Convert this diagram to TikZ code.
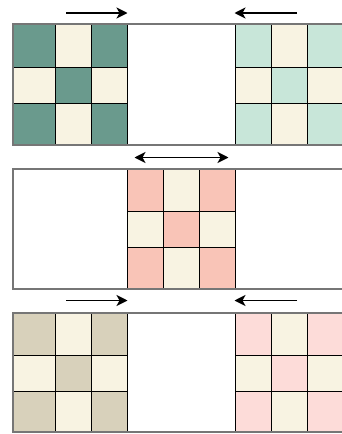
\documentclass[tikz,border=0pt]{standalone}
\usetikzlibrary{arrows.meta}
\definecolor{teal}{HTML}{6A9A8D}
\definecolor{mint}{HTML}{C8E6D9}
\definecolor{cream}{HTML}{F8F3E2}
\definecolor{salmon}{HTML}{F9C4B7}
\definecolor{beige}{HTML}{D8D1BB}
\definecolor{pinkl}{HTML}{FDDCD9}
\definecolor{bordergray}{HTML}{767676}
\tikzset{
  gridline/.style={black, line width=0.9pt},
  panelline/.style={bordergray, line width=1.3pt},
  arr/.style={black, line width=1.5pt, -{Stealth[length=11pt,width=11pt,inset=3pt]}},
  darr/.style={black, line width=1.5pt, {Stealth[length=11pt,width=11pt,inset=3pt]}-{Stealth[length=11pt,width=11pt,inset=3pt]}}
}
% #1..#4 column edges, #5..#8 row edges, #9 colour
\newcommand\mygrid[9]{%
  \fill[cream] (#1,#5) rectangle (#4,#8);
  \fill[#9] (#1,#5) rectangle (#2,#6);
  \fill[#9] (#3,#5) rectangle (#4,#6);
  \fill[#9] (#2,#6) rectangle (#3,#7);
  \fill[#9] (#1,#7) rectangle (#2,#8);
  \fill[#9] (#3,#7) rectangle (#4,#8);
  \foreach \xx in {#1,#2,#3,#4} {\draw[gridline] (\xx,#5) -- (\xx,#8);}
  \foreach \yy in {#5,#6,#7,#8} {\draw[gridline] (#1,\yy) -- (#4,\yy);}
}
\newcommand\mypanel[2]{%
  \draw[panelline] (360,#1) -- (13,#1) -- (13,#2) -- (360,#2);
}
\begin{document}
\begin{tikzpicture}[x=1pt,y=-1pt]
\useasboundingbox (0,0) rectangle (342,434);
\clip (0,0) rectangle (342,434);
% panel 1
\mygrid{13}{55}{91}{127}{24}{67}{103}{145}{teal}
\mygrid{235}{271}{307}{343}{24}{67}{103}{145}{mint}
\mypanel{24}{145}
% panel 2
\mygrid{127}{163}{199}{235}{169}{211}{247}{289}{salmon}
\mypanel{169}{289}
% panel 3
\mygrid{13}{55}{91}{127}{313}{355}{391}{432}{beige}
\mygrid{235}{271}{307}{343}{313}{355}{391}{432}{pinkl}
\mypanel{313}{432}
% arrows
\coordinate (a1s) at (66,13);
\coordinate (a1e) at (127.5,13);
\coordinate (a2s) at (297,13);
\coordinate (a2e) at (234.5,13);
\coordinate (b1s) at (134.5,157.5);
\coordinate (b1e) at (228.5,157.5);
\coordinate (c1s) at (66,300.5);
\coordinate (c1e) at (127.5,300.5);
\coordinate (c2s) at (297,300.5);
\coordinate (c2e) at (234.5,300.5);
\draw[arr] (a1s) -- (a1e);
\draw[arr] (a2s) -- (a2e);
\draw[darr] (b1s) -- (b1e);
\draw[arr] (c1s) -- (c1e);
\draw[arr] (c2s) -- (c2e);
\end{tikzpicture}
\end{document}
